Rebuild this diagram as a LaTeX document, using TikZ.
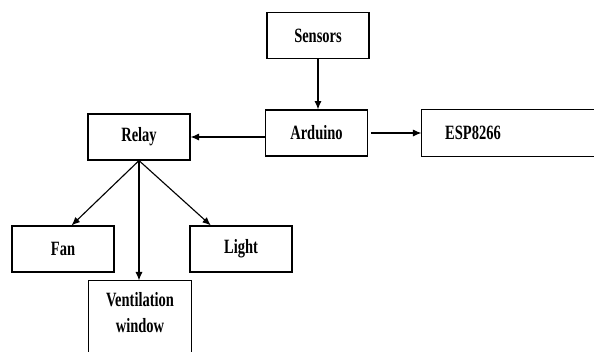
\documentclass[tikz,border=0pt]{standalone}
\usepackage{fontspec}
\setmainfont{Liberation Serif}
\usetikzlibrary{arrows.meta}

\newcommand{\tallbold}[1]{\scalebox{1}[1.4]{\bfseries #1}}

\begin{document}
\begin{tikzpicture}[x=0.025cm, y=-0.025cm,
    blk/.style={draw, line width=0.8pt, minimum width=2.55cm, minimum height=1.15cm,
      inner sep=0pt, font=\fontsize{10.3}{13.2}\selectfont},
    arr/.style={line width=0.8pt, -{Latex[length=6pt,width=5pt]}}]

      \useasboundingbox (0,0) rectangle (594,351);
      \clip (0,0) rectangle (594,351);

      \node[blk] (sensors) at (318,35.5) {\tallbold{Sensors}};
      \node[blk] (arduino) at (316.5,133) {\tallbold{Arduino}};
      \node[blk] (relay) at (139,137) {\tallbold{Relay}};
      \node[blk] (fan) at (63,249) {\tallbold{Fan}};
      \node[blk] (light) at (241,249) {\tallbold{Light}};
      \node[blk, draw=none] (esp) at (473,133) {\tallbold{ESP8266}};
      \node[blk, draw=none, minimum height=1.65cm] (vent) at (140,314)
        {\tallbold{\begin{tabular}{@{}c@{}}Ventilation\\window\end{tabular}}};

      % boxes running off the page
      \draw[line width=0.8pt] ([xshift=6cm]esp.north west) -- (esp.north west)
        -- (esp.south west) -- ([xshift=6cm]esp.south west);
      \draw[line width=0.8pt] ([yshift=-1cm]vent.south west) -- (vent.north west)
        -- (vent.north east) -- ([yshift=-1cm]vent.south east);

      \draw[arr] (sensors.south) -- (sensors.south |- arduino.north);
      \draw[arr] (arduino.west |- relay.east) -- (relay.east);
      \draw[arr, shorten <=2pt] (arduino.east) -- (esp.west);
      \draw[arr] (relay.south) -- (fan.70);
      \draw[arr] (relay.south) -- (vent.north -| relay.south);
      \draw[arr] (relay.south) -- (light.142);

    \end{tikzpicture}
\end{document}
